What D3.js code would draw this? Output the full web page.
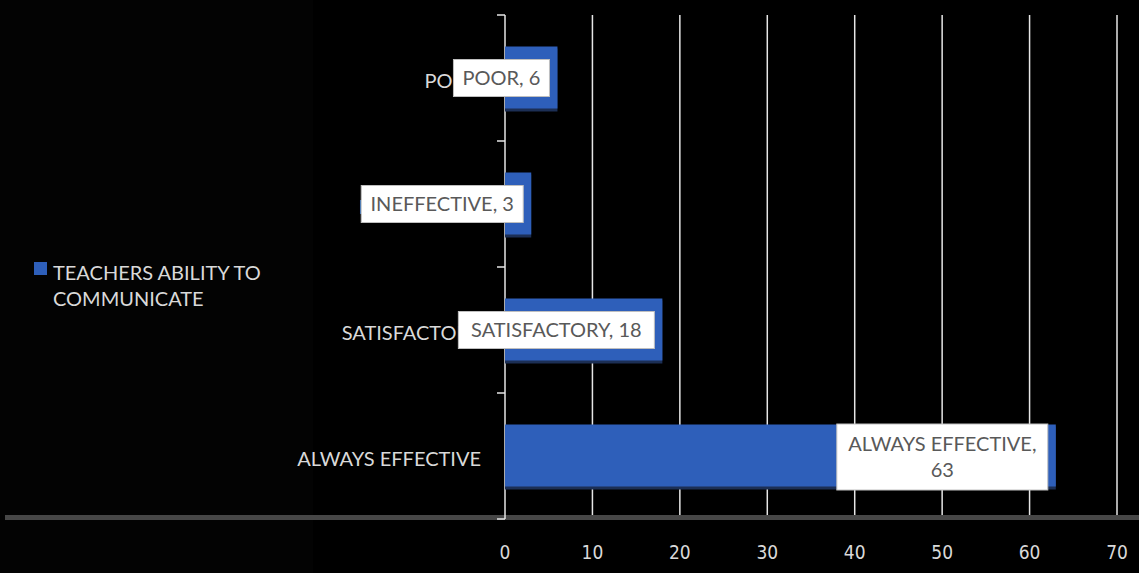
<!DOCTYPE html>
<html>
<head>
<meta charset="utf-8">
<script src="https://cdn.jsdelivr.net/npm/d3@7"></script>
<style>
  html, body { margin: 0; padding: 0; background: #000; }
  svg { display: block; }
</style>
</head>
<body>
<div id="chart"></div>
<script>
const categories = ["POOR", "INEFFECTIVE", "SATISFACTORY", "ALWAYS EFFECTIVE"];
const values = [6, 3, 18, 63];
const seriesName = ["TEACHERS ABILITY TO", "COMMUNICATE"];
const xTicks = [0, 10, 20, 30, 40, 50, 60, 70];

const width = 1139
, height = 573
, plotLeft = 505
, plotRight = 1117
, plotTop = 15
, plotBottom = 519
, barColor = "#2e5fba"
, labelColor = "#d9d9d9"
, gridColor = "#e6e6e6"
, uiFont = "Lato, 'Open Sans', sans-serif";

var svg = d3.select("#chart")
  .append("svg")
  .attr("width", width)
  .attr("height", height);

svg.append("rect")
  .attr("width", width)
  .attr("height", height)
  .style("fill", "#000");

// barely lighter left panel
svg.append("rect")
  .attr("x", 0).attr("y", 0)
  .attr("width", 313).attr("height", height)
  .style("fill", "#030303");

var x = d3.scaleLinear()
  .domain([0, 70])
  .range([plotLeft, plotRight]);

var y = d3.scaleBand()
  .domain(categories)
  .range([plotTop, plotBottom])
  .paddingInner(0.5)
  .paddingOuter(0.25);

// vertical gridlines
svg.append("g")
  .selectAll("line")
  .data(xTicks.slice(1))
  .enter().append("line")
  .attr("x1", d => x(d)).attr("x2", d => x(d))
  .attr("y1", plotTop).attr("y2", plotBottom)
  .style("stroke", gridColor)
  .style("stroke-width", 1.5);

// gray baseline band
svg.append("rect")
  .attr("x", 5).attr("y", 515)
  .attr("width", width - 5).attr("height", 5)
  .style("fill", "#474747");

// x tick labels
svg.append("g")
  .selectAll("text")
  .data(xTicks)
  .enter().append("text")
  .attr("x", d => x(d))
  .attr("y", 559)
  .attr("text-anchor", "middle")
  .text(d => d)
  .style("font-family", "'DejaVu Sans Condensed', 'Liberation Sans Narrow', sans-serif")
  .style("font-size", "19px")
  .style("fill", labelColor);

// category axis line and ticks at band boundaries
const step = y.step();
const boundaries = d3.range(categories.length + 1).map(i => plotTop + i * step);
svg.append("line")
  .attr("x1", plotLeft).attr("x2", plotLeft)
  .attr("y1", plotTop).attr("y2", plotBottom)
  .style("stroke", gridColor)
  .style("stroke-width", 1.5);
svg.append("g")
  .selectAll("line")
  .data(boundaries)
  .enter().append("line")
  .attr("x1", plotLeft - 8).attr("x2", plotLeft)
  .attr("y1", d => d).attr("y2", d => d)
  .style("stroke", gridColor)
  .style("stroke-width", 1.5);

// bars with darker bottom edge
var bars = svg.append("g")
  .selectAll("g")
  .data(categories.map((c, i) => ({ cat: c, value: values[i] })))
  .enter().append("g");

bars.append("rect")
  .attr("x", x(0))
  .attr("y", d => y(d.cat) + 2)
  .attr("width", d => x(d.value) - x(0))
  .attr("height", y.bandwidth())
  .style("fill", "#1c2f55");

bars.append("rect")
  .attr("x", x(0))
  .attr("y", d => y(d.cat))
  .attr("width", d => x(d.value) - x(0))
  .attr("height", y.bandwidth() - 1)
  .style("fill", barColor);

// category labels
svg.append("g")
  .selectAll("text")
  .data(categories)
  .enter().append("text")
  .attr("x", 481)
  .attr("y", d => y(d) + y.bandwidth() / 2 + 10)
  .attr("text-anchor", "end")
  .text(d => d)
  .style("font-family", uiFont)
  .style("font-size", "20px")
  .style("fill", labelColor);

// data labels (inside end, white boxes)
const labelLines = [
  ["POOR, 6"],
  ["INEFFECTIVE, 3"],
  ["SATISFACTORY, 18"],
  ["ALWAYS EFFECTIVE,", "63"]
];
const boxWidths = [96, 162, 196, 211];

categories.forEach((c, i) => {
  const lines = labelLines[i]
  , lineH = 26
  , boxH = lines.length == 1 ? 37 : 66
  , cy = y(c) + y.bandwidth() / 2 + (lines.length == 1 ? 0 : 1)
  , right = x(values[i]) - 8
  , bw = boxWidths[i]
  , left = right - bw;

  var g = svg.append("g");
  g.append("rect")
    .attr("x", left)
    .attr("y", cy - boxH / 2)
    .attr("width", bw)
    .attr("height", boxH)
    .style("fill", "#fff")
    .style("stroke", "#bfbfbf")
    .style("stroke-width", 1);

  lines.forEach((t, j) => {
    g.append("text")
      .attr("x", left + bw / 2)
      .attr("y", cy + 7 + (j - (lines.length - 1) / 2) * lineH)
      .attr("text-anchor", "middle")
      .text(t)
      .style("font-family", uiFont)
      .style("font-size", "20px")
      .style("fill", "#595959");
  });
});

// legend
svg.append("rect")
  .attr("x", 34).attr("y", 262)
  .attr("width", 13).attr("height", 13)
  .style("fill", barColor);

svg.append("g")
  .selectAll("text")
  .data(seriesName)
  .enter().append("text")
  .attr("x", 53)
  .attr("y", (d, i) => 280 + i * 26)
  .text(d => d)
  .style("font-family", uiFont)
  .style("font-size", "20px")
  .style("fill", labelColor);
</script>
</body>
</html>
